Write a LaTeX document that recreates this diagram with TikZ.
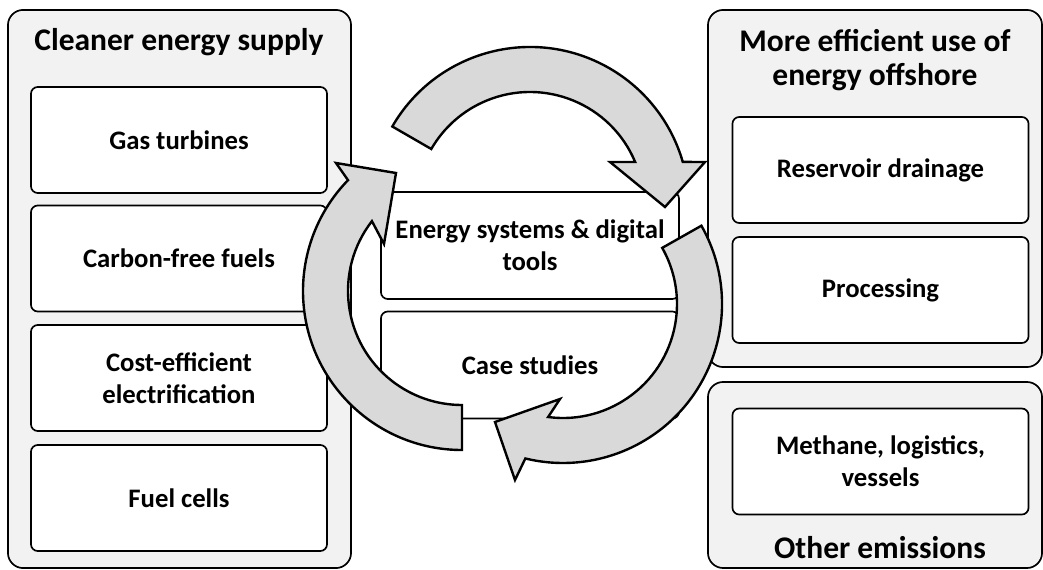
\documentclass[tikz,border=0pt]{standalone}
\usepackage{fontspec}
\setmainfont{Carlito}
\usepackage{tikz}
\definecolor{panelgray}{HTML}{F2F2F2}
\definecolor{arrowgray}{HTML}{D9D9D9}

\begin{document}
\begin{tikzpicture}[x=0.025cm,y=-0.025cm,
  panel/.style={draw=black, line width=1.2pt, rounded corners=0.38cm, fill=panelgray},
  paneltitle/.style={align=center, font=\bfseries\fontsize{22.4}{24.2}\selectfont},
  itembox/.style={draw=black, line width=1.2pt, rounded corners=0.17cm, fill=white, align=center,
    minimum width=7.4cm, minimum height=2.65cm, font=\bfseries\fontsize{19}{23}\selectfont},
  corebox/.style={itembox, minimum width=7.45cm, minimum height=2.675cm},
  cyclearrow/.style={draw=black, line width=1.7pt, fill=arrowgray, line join=miter}]
  \useasboundingbox (0,0) rectangle (1043,570);

  % Cleaner energy supply
  \node[panel, minimum width=8.575cm, minimum height=13.95cm] (supply) at (179.5,289) {};
  \node[paneltitle] (supplytitle) at (179,42) {Cleaner energy supply};
  \node[itembox] (gas) at (179,140) {Gas turbines};
  \node[itembox] (fuels) at (179,258.5) {Carbon-free fuels};
  \node[itembox] (elec) at (179,378) {Cost-efficient\\electrification};
  \node[itembox] (cells) at (179,498) {Fuel cells};

  % More efficient use of energy offshore
  \node[panel, minimum width=8.35cm, minimum height=8.925cm] (offshore) at (875,188.5) {};
  \node[paneltitle] (offshoretitle) at (875,60) {More efficient use of\\energy offshore};
  \node[itembox] (drain) at (880.5,170) {Reservoir drainage};
  \node[itembox] (proc) at (880.5,290) {Processing};

  % Other emissions
  \node[panel, minimum width=8.35cm, minimum height=4.65cm] (other) at (875,475) {};
  \node[itembox] (methane) at (880.5,461.5) {Methane, logistics,\\vessels};
  \node[paneltitle] (othertitle) at (880,548) {Other emissions};

  % Core
  \node[corebox] (tools) at (530,245.5) {Energy systems \& digital\\tools};
  \node[corebox] (cases) at (530,365) {Case studies};

  % Cycle arrows
  \draw[cyclearrow] ([shift={(210:159)}]530,206) arc[start angle=210, end angle=343.9, radius=159]
    -- (705,162) -- (665,207) -- (610,162)
    -- ([shift={(337.3:114)}]530,206) arc[start angle=337.3, end angle=210, radius=114] -- cycle;
  \draw[cyclearrow] ([shift={(-29.5:159)}]563,304) arc[start angle=-29.5, end angle=103.7, radius=159]
    -- (515,480) -- (495,422) -- (560,399)
    -- ([shift={(97.5:114)}]563,304) arc[start angle=97.5, end angle=-29.5, radius=114] -- cycle;
  \draw[cyclearrow] ([shift={(90:159)}]462,291) arc[start angle=90, end angle=224.2, radius=159]
    -- (336,163) -- (396,173) -- (384,244)
    -- ([shift={(217.8:114)}]462,291) arc[start angle=217.8, end angle=90, radius=114] -- cycle;
\end{tikzpicture}
\end{document}
